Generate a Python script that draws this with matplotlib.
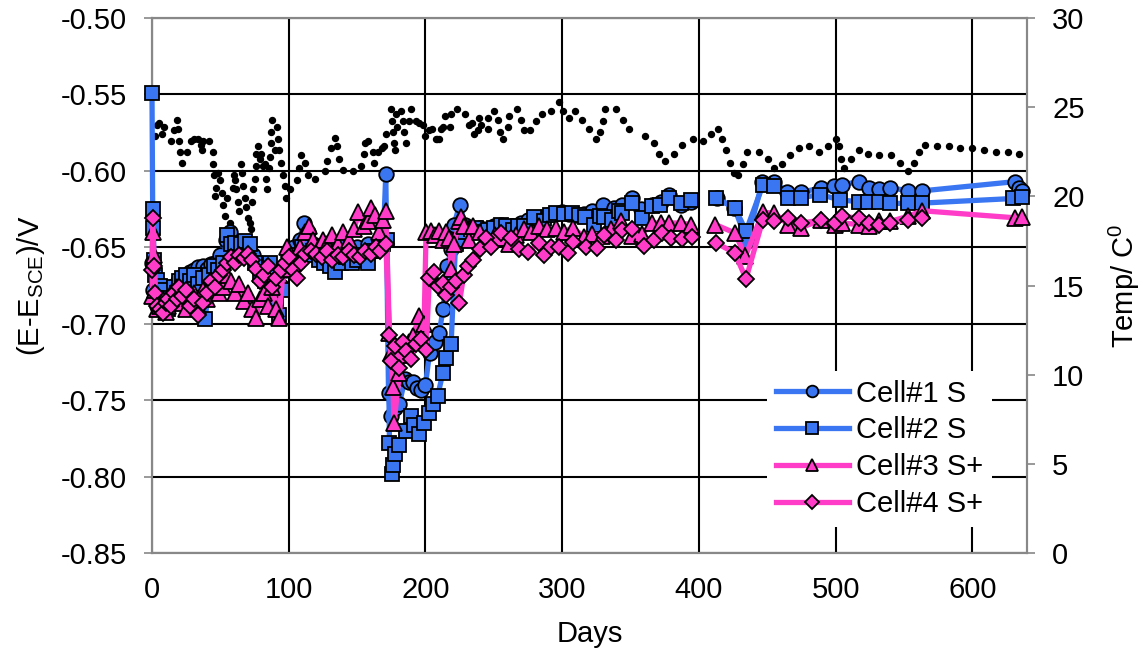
import numpy as np
import matplotlib
matplotlib.use('Agg')
import matplotlib.pyplot as plt

plt.rcParams['font.family'] = ['Liberation Sans', 'DejaVu Sans']
plt.rcParams['font.size'] = 21
plt.rcParams['axes.unicode_minus'] = False
plt.rcParams['mathtext.fontset'] = 'custom'
plt.rcParams['mathtext.rm'] = 'Liberation Sans'
plt.rcParams['mathtext.it'] = 'Liberation Sans:italic'

BLUE = '#3A76F2'
PINK = '#FF3CC8'

# --- data (days, volts vs SCE, temperature) ---
cell1_days = [0, 1, 2, 4, 6, 8, 10, 13, 16, 19, 22, 25, 28, 31, 34, 37, 40, 43, 46, 50,
              54, 57, 60, 63, 66, 70, 74, 78, 82, 86, 90, 94, 97, 100, 104, 108, 111, 114,
              118, 122, 126, 130, 134, 138, 142, 146, 150, 154, 158, 162, 166, 169, 171,
              173, 174.5, 178, 181, 185, 188, 191, 194, 197, 200, 203, 207, 210, 213, 216,
              219, 221, 225, 229, 232, 236, 240, 245, 250, 255, 260, 265, 270, 275, 280,
              285, 290, 295, 300, 305, 310, 316, 322, 330, 338, 344, 351, 358, 366, 372,
              378, 387, 394, 403, 413, 426, 435, 446.5, 455, 464.5, 475, 489.5, 498.5,
              504.6, 517.3, 524.7, 531.4, 540, 553.3, 563.5, 631, 634, 636.5]
cell1_v = [-0.660, -0.678, -0.684, -0.688, -0.685, -0.683, -0.680, -0.678, -0.675, -0.672,
           -0.670, -0.668, -0.666, -0.665, -0.663, -0.662, -0.664, -0.661, -0.660, -0.655,
           -0.645, -0.640, -0.648, -0.650, -0.652, -0.648, -0.655, -0.665, -0.668, -0.672,
           -0.668, -0.675, -0.665, -0.652, -0.650, -0.645, -0.634, -0.640, -0.648, -0.650,
           -0.655, -0.652, -0.658, -0.650, -0.656, -0.652, -0.650, -0.655, -0.648, -0.652,
           -0.650, -0.648, -0.602,
           -0.745, -0.760, -0.755, -0.752, -0.736, -0.738, -0.738, -0.742, -0.743, -0.740,
           -0.719, -0.712, -0.706, -0.690, -0.662, -0.651, -0.635, -0.622, -0.635, -0.640,
           -0.638, -0.637, -0.638, -0.636, -0.635, -0.637, -0.636, -0.634, -0.632, -0.631,
           -0.630, -0.629, -0.628, -0.627, -0.628, -0.629, -0.628, -0.626, -0.622, -0.624,
           -0.622, -0.618, -0.625, -0.622, -0.620, -0.616, -0.622, -0.620, None, -0.618,
           -0.624, -0.646, -0.607, -0.607, -0.614, -0.614, -0.611, -0.610, -0.609, -0.607,
           -0.611, -0.6115, -0.611, -0.613, -0.613, -0.607, -0.611, -0.613]

cell2_days = [0, 0.5, 1, 1.5, 2.5, 4, 6, 8, 10, 12, 14, 16, 18, 20, 22, 25, 28, 31, 34, 37,
              39, 42, 45, 48, 52, 55, 58, 61, 65, 68, 72, 75, 79, 83, 86, 89, 91, 93, 95, 97,
              100, 103, 106, 110, 114, 118, 122, 126, 130, 134, 138, 142, 146, 150, 154, 158,
              162, 166, 169, 172,
              173.7, 175.7, 176.5, 177.4, 181, 185.9, 189.5, 192, 195.6, 199.3, 202.4, 205.4,
              209, 212.7, 215, 218.8, 222, 225, 229, 233, 237, 241, 245.4, 250, 255.2, 259,
              263.7, 268, 272.3, 279.6, 286.9, 291, 295.4, 301, 307, 312, 317, 323.4, 328,
              330.7, 336.7, 341.6, 344, 351.3, 358.6, 366, 371.4, 378, 386.6, 394, 403,
              412.7, 426.3, 434.5, 446.7, 455.2, 465.2, 474.9, 488.7, 503.4, 516.8, 524,
              531.4, 539.8, 553.3, 563.5, 629.9, 636]
cell2_v = [-0.549, -0.625, -0.637, -0.658, -0.668, -0.671, -0.675, -0.678, -0.683, -0.690,
           -0.686, -0.676, -0.680, -0.672, -0.670, -0.668, -0.672, -0.668, -0.674, -0.670,
           -0.697, -0.668, -0.662, -0.665, -0.660, -0.642, -0.648, -0.647, -0.648, -0.646,
           -0.648, -0.660, -0.668, -0.672, -0.660, -0.668, -0.684, -0.694, -0.678, -0.665,
           -0.658, -0.660, -0.655, -0.650, -0.655, -0.652, -0.658, -0.660, -0.662, -0.666,
           -0.660, -0.656, -0.660, -0.658, -0.655, -0.660, -0.652, -0.650, -0.648, -0.645,
           -0.778, -0.798, -0.792, -0.785, -0.779, -0.770, -0.760, -0.766, -0.772, -0.765,
           -0.758, -0.752, -0.747, -0.732, -0.722, -0.713, -0.648, -0.645, -0.640, -0.638,
           -0.6375, -0.640, -0.6386, -0.637, -0.6353, -0.636, -0.6386, -0.636, -0.636,
           -0.630, -0.633, -0.629, -0.6276, -0.628, -0.6276, -0.629, -0.630, -0.6353,
           -0.6295, -0.630, -0.632, -0.626, -0.6276, -0.6207, -0.631, -0.6229, -0.6223,
           -0.6175, -0.6207, -0.619, None, -0.618, -0.624, -0.6393, -0.6095, -0.6097,
           -0.6175, -0.6175, -0.6154, -0.619, -0.620, -0.620, -0.620, -0.6212, -0.6212,
           -0.621, -0.618, -0.617]

cell3_days = [0, 0.5, 1.5, 2.5, 4, 6, 8, 10, 12, 14, 16, 18, 20, 22, 25, 28, 31, 34, 37, 40,
              43, 46, 49, 52, 55, 58, 61, 64, 67, 70, 73, 76, 79, 82, 85, 88, 91, 93, 96, 99,
              102, 105, 108, 112, 115, 118, 122, 125, 128, 132, 136, 140, 144, 148, 151, 155,
              158, 160, 163, 166, 169, 171,
              173.7, 175, 176.2, 177, 181, 185, 188, 190.8, 195.6, 199, 200.5, 204, 207,
              210.2, 212.7, 215, 217.6, 218.8, 221, 224.9, 226, 228.5, 232, 234.5, 240, 246.6,
              251, 256, 261.2, 266, 272.2, 277, 283.2, 289, 295.4, 301, 307.6, 316, 322,
              329.4, 336, 342.7, 351.3, 358.6, 366, 372, 378, 386.6, 394, 403, 412, 426.3,
              434.1, 446.7, 455.2, 465.2, 474.9, 489.5, 499.7, 504.5, 516.8, 524.7, 531.4,
              540, 553.3, 563.5, 631, 636]
cell3_v = [-0.682, -0.640, -0.655, -0.678, -0.690, -0.688, -0.684, -0.692, -0.688, -0.680,
           -0.685, -0.676, -0.686, -0.680, -0.690, -0.684, -0.680, -0.688, -0.678, -0.684,
           -0.676, -0.670, -0.680, -0.676, -0.668, -0.672, -0.680, -0.674, -0.685, -0.680,
           -0.690, -0.696, -0.684, -0.680, -0.688, -0.676, -0.690, -0.696, -0.664, -0.650,
           -0.655, -0.658, -0.650, -0.640, -0.636, -0.645, -0.650, -0.645, -0.648, -0.642,
           -0.648, -0.640, -0.645, -0.638, -0.627, -0.636, -0.633, -0.624, -0.629, -0.640,
           -0.632, -0.626,
           -0.706, -0.719, -0.741, -0.765, -0.732, -0.720, -0.712, -0.708, -0.695, -0.700,
           -0.640, -0.639, -0.642, -0.639, -0.645, -0.640, -0.644, -0.664, -0.648, -0.633,
           -0.630, -0.636, -0.645, -0.636, -0.640, -0.646, -0.642, -0.644, -0.648, -0.642,
           -0.638, -0.640, -0.636, -0.638, -0.6375, -0.640, -0.637, -0.643, -0.641, -0.6425,
           -0.638, -0.633, -0.6425, -0.641, -0.634, -0.634, -0.634, -0.634, -0.635, None,
           -0.635, -0.6405, -0.6557, -0.627, -0.6275, -0.635, -0.637, -0.632, -0.635,
           -0.634, -0.635, -0.636, -0.633, -0.633, -0.6295, -0.626, -0.6306, -0.630]

cell4_days = [0, 0.5, 1.5, 2.5, 4, 6, 8, 10, 12, 14, 16, 18, 20, 22, 25, 28, 31, 34, 37, 40,
              43, 46, 49, 52, 55, 58, 61, 64, 67, 70, 73, 76, 79, 82, 85, 88, 91, 94, 97, 100,
              103, 106, 109, 112, 116, 120, 124, 128, 132, 136, 140, 144, 148, 152, 156, 160,
              164, 167, 171,
              173.7, 174.5, 177.4, 181, 183.5, 185.9, 189.5, 193.2, 196.8, 200.5, 202.9, 206,
              209, 212.7, 215.1, 218.8, 222, 224.9, 228, 231, 234.7, 239.6, 244, 248, 255,
              262.3, 268.4, 275.2, 283, 286.9, 292, 297.8, 304, 307.6, 317.3, 325.8, 330.7,
              339.2, 344, 351.3, 359.9, 367.2, 373.2, 379.3, 387.8, 395.1, 403, 412.7, 426.3,
              434.5, 446.7, 455.3, 465.2, 474.9, 489.5, 499.3, 504.6, 517.3, 524.7, 531.4,
              540, 553.3, 563.5]
cell4_v = [-0.665, -0.631, -0.662, -0.680, -0.688, -0.690, -0.693, -0.686, -0.684, -0.688,
           -0.680, -0.684, -0.676, -0.682, -0.678, -0.688, -0.684, -0.694, -0.686, -0.680,
           -0.672, -0.676, -0.668, -0.665, -0.660, -0.656, -0.660, -0.655, -0.657, -0.654,
           -0.658, -0.664, -0.672, -0.668, -0.662, -0.676, -0.670, -0.665, -0.660, -0.656,
           -0.665, -0.670, -0.660, -0.654, -0.652, -0.654, -0.656, -0.652, -0.658, -0.655,
           -0.656, -0.652, -0.655, -0.656, -0.652, -0.654, -0.650, -0.652, -0.648,
           -0.707, -0.724, -0.7145, -0.7287, -0.712, -0.7178, -0.7232, -0.7134, -0.7101,
           -0.7167, -0.670, -0.666, -0.675, -0.673, -0.681, -0.676, -0.672, -0.686, -0.668,
           -0.662, -0.658, -0.651, -0.644, -0.650, -0.6407, -0.644, -0.651, -0.6527, -0.6473,
           -0.6549, -0.650, -0.6495, -0.6538, -0.6462, -0.6495, -0.6505, -0.6418, -0.645,
           -0.6385, -0.638, -0.649, -0.645, -0.6407, -0.644, -0.6445, -0.643, None, -0.647,
           -0.6537, -0.6705, -0.6322, -0.6325, -0.6306, -0.634, -0.6322, -0.634, -0.6295,
           -0.631, -0.634, -0.635, -0.634, -0.632, -0.631]

temp_days = [2.2, 3.4, 5.1, 7, 9, 14, 16.3, 18, 19.2, 19.7, 20.4, 22.1, 25.3, 28.5, 31, 33.8,
             35.8, 36.3, 37.5, 41.9, 44.3, 44.8, 45.5, 46, 46.7, 48.4, 49.6, 51.3, 52.3, 53.3,
             54.7, 57, 57.7, 58.9, 60.1, 60.6, 61.8, 63, 63.5, 65, 65.5, 66.7, 67.9, 69.1,
             70.3, 71.5, 72.3, 72.8, 74, 75.2, 75.9, 76.4, 77.6, 78.8, 80, 81.3, 82.5, 83.7,
             84.4, 85.4, 86.1, 86.8, 87.3, 87.8, 89.8, 91.7, 92.2, 92.9, 94.6, 95.8, 97.1,
             98.3, 100.7, 106.3, 107.5, 108.8, 111.7, 114.1, 119, 126.3, 128.2, 131.1, 134.1,
             135.5, 136.7, 139.7, 147, 153, 154.8, 155.5, 158, 161.6, 162.3, 165.2, 168.1,
             170, 171.3, 174.9, 175.4, 176.2, 176.9, 177.4, 178.6, 179.3, 182.2, 183.4,
             184.6, 185.8, 188.3, 189.5, 193.1, 195.6, 198, 200, 202.9, 205, 207.8, 208.7,
             210.2, 211.5, 212.6, 214.2, 218.2, 219, 223.2, 228.8, 231.6, 233.8, 235.2, 238.5,
             239.4, 240.8, 245.5, 246.1, 250, 253.4, 254.7, 256.7, 260.3, 261.2, 267.3,
             270.1, 272.1, 276.3, 281, 285.5, 291.6, 297.5, 300.3, 304.7, 309.2, 314.5,
             319.8, 325.1, 327.4, 329.6, 331.3, 339.7, 344.4, 348.6, 360.3, 367, 370.7,
             375.1, 381.8, 387.7, 395.5, 403.1, 408.9, 413.7, 416.8, 419.6, 423, 425.7,
             428.8, 432.1, 435.5, 443.9, 450.6, 455.3, 460.6, 466.8, 473.2, 480.2, 488,
             494.7, 500.3, 502.5, 504.2, 505.9, 511.5, 517, 524, 532.1, 540.5, 546.9, 553,
             557.3, 561.2, 565.4, 574, 582.7, 591.3, 599.7, 608.7, 617.3, 626, 633.8]
temp_c = [23.4, 24.0, 24.1, 23.5, 23.9, 23.1, 23.7, 24.3, 23.8, 23.1, 22.5, 21.9, 22.5, 23.1,
          23.2, 23.2, 22.9, 22.6, 23.1, 23.1, 22.5, 21.8, 21.2, 20.0, 20.5, 21.3, 20.9, 20.2,
          19.5, 18.9, 19.9, 18.5, 17.9, 20.5, 21.2, 20.9, 20.4, 19.7, 19.2, 21.8, 21.3, 20.6,
          19.9, 19.4, 18.8, 18.5, 18.2, 19.7, 20.4, 21.0, 21.7, 22.4, 22.8, 22.1, 22.4, 21.7,
          21.8, 21.0, 20.4, 21.6, 22.2, 23.0, 23.6, 24.3, 22.6, 23.9, 23.2, 22.6, 21.9, 21.2,
          20.6, 19.9, 20.4, 20.9, 21.6, 22.3, 21.9, 21.2, 21.0, 21.4, 22.0, 22.7, 23.3, 22.8,
          22.1, 21.5, 21.4, 21.7, 22.4, 23.0, 23.1, 22.5, 21.9, 22.5, 22.7, 22.8, 23.5, 24.9,
          24.2, 23.6, 23.0, 22.6, 24.6, 23.9, 24.8, 24.2, 23.6, 23.0, 24.2, 24.9, 24.2, 24.1,
          24.0, 23.4, 23.7, 23.8, 23.2, 23.2, 23.2, 23.8, 23.9, 24.5, 23.9, 24.6, 24.9, 24.6,
          24.0, 24.1, 23.5, 23.7, 24.4, 24.0, 23.8, 24.4, 24.8, 24.3, 23.6, 23.2, 23.9, 24.5,
          24.9, 24.3, 23.7, 23.7, 24.2, 24.6, 24.8, 25.3, 24.8, 24.4, 24.8, 24.3, 23.8, 23.2,
          23.6, 24.2, 24.9, 24.9, 24.3, 23.8, 23.4, 23.0, 22.4, 22.0, 22.4, 22.9, 23.2, 23.1,
          23.5, 23.8, 23.2, 22.6, 21.9, 21.3, 21.2, 21.8, 22.5, 22.5, 22.1, 21.6, 21.8, 22.3,
          22.7, 22.8, 22.5, 22.8, 23.2, 22.8, 22.1, 21.6, 22.1, 22.6, 22.4, 22.3, 22.3, 21.9,
          21.4, 21.9, 22.5, 22.9, 22.8, 22.8, 22.7, 22.7, 22.6, 22.5, 22.5, 22.4]


def as_arr(vals):
    return np.array([np.nan if v is None else v for v in vals], dtype=float)


fig = plt.figure(figsize=(11.48, 6.55), dpi=100)
ax = fig.add_axes([0.1324, 0.155, 0.7622, 0.8176])
ax2 = ax.twinx()

series = [
    (cell1_days, cell1_v, BLUE, 'o', 10.5, 'Cell#1 S'),
    (cell2_days, cell2_v, BLUE, 's', 10.5, 'Cell#2 S'),
    (cell3_days, cell3_v, PINK, '^', 11, 'Cell#3 S+'),
    (cell4_days, cell4_v, PINK, 'D', 8.5, 'Cell#4 S+'),
]
for d, v, c, m, ms, lab in series:
    ax.plot(d, as_arr(v), color=c, lw=3.8, marker=m, ms=ms, mfc=c, mec='black',
            mew=1.3, label=lab, clip_on=False, zorder=3)

ax2.plot(temp_days, temp_c, ls='none', marker='o', ms=4.3, color='black', zorder=2)

# potentials above the temperature dots
ax.set_zorder(ax2.get_zorder() + 1)
ax.patch.set_visible(False)

ax.set_xlim(0, 640)
ax.set_ylim(-0.85, -0.50)
ax.set_yticks(np.arange(-0.85, -0.499, 0.05))
ax.yaxis.set_major_formatter(plt.FormatStrFormatter('%.2f'))
ax.set_xticks(np.arange(0, 601, 100))
ax.grid(True, color='black', lw=1.5)
ax.set_axisbelow(True)
ax2.set_ylim(0, 30)
ax2.set_yticks(np.arange(0, 31, 5))

for a in (ax, ax2):
    for s in a.spines.values():
        s.set_color('#888888')
        s.set_linewidth(1.5)
    a.tick_params(axis='y', colors='#888888', labelcolor='black', length=6, width=1.2,
                  labelsize=21, pad=12)
ax.tick_params(axis='x', length=0, labelsize=21, pad=16)

ax.set_xlabel('Days', fontsize=21, labelpad=12)
ax.set_ylabel(r'(E-E$_{\mathrm{SCE}}$)/V', fontsize=21, labelpad=10)
ax2.set_ylabel(r'Temp/ C$^{0}$', fontsize=21, labelpad=16)

leg = ax.legend(loc='lower left', bbox_to_anchor=(0.703, 0.05), borderaxespad=0,
                frameon=True, fancybox=False, edgecolor='none', facecolor='white',
                framealpha=1, handlelength=2.5, handletextpad=0.25, labelspacing=0.3,
                borderpad=0.3, markerscale=0.8, fontsize=21)
leg.set_zorder(10)

plt.savefig('out.png', dpi=100)
